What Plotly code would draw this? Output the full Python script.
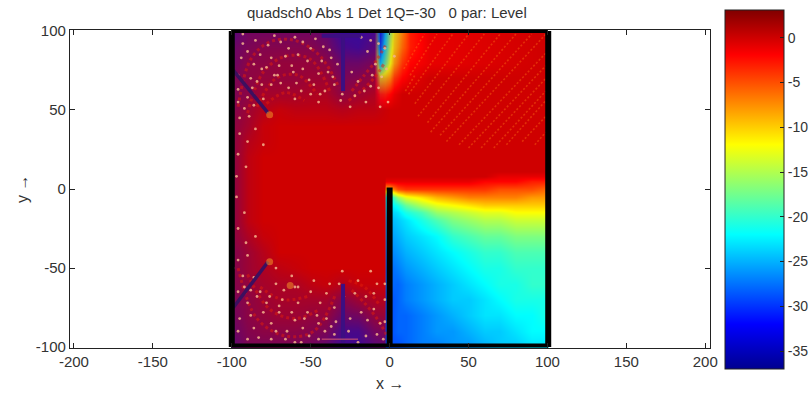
import plotly.graph_objects as go

TITLE = "quadsch0 Abs 1 Det 1Q=-30\u00a0\u00a0 0 par: Level"
x_ticks = [-200, -150, -100, -50, 0, 50, 100, 150, 200]
x_labels = ["-200", "-150", "-100", "-50", "0", "50", "100", "150", "200"]
y_ticks = [-100, -50, 0, 50, 100]
y_labels = ["-100", "-50", "0", "50", "100"]
cbar_ticks = [0, -5, -10, -15, -20, -25, -30, -35]
cbar_labels = ["0", "-5", "-10", "-15", "-20", "-25", "-30", "-35"]

# Level (dB) of the field outside the shadowed quadrant
base_x = [-100, -99, -10, -6, -3, 0, 3, 8, 13, 25, 99, 100]
base_y = [100, 90, 80, 70, 60, 50, -100]
base_z = [
    [0, 0, 0, -30, -22, -15, -11, -7, -3, -1, 0, 0],
    [0, 0, 0, -28, -20, -14, -10, -6, -3, -1, 0, 0],
    [0, 0, 0, -22, -17, -12, -8, -4, -2, -1, 0, 0],
    [0, 0, 0, -10, -9, -7, -4, -2, -1, 0, 0, 0],
    [0, 0, 0, -3, -3, -2, -1, 0, 0, 0, 0, 0],
    [0, 0, 0, 0, 0, 0, 0, 0, 0, 0, 0, 0],
    [0, 0, 0, 0, 0, 0, 0, 0, 0, 0, 0, 0],
]

# Level (dB) in the shadowed quadrant
shadow_x = [0, 5, 10, 20, 30, 40, 50, 60, 70, 80, 90, 99, 100]
shadow_y = [11, 8, 5, 0, -5, -10, -15, -20, -30, -40, -50, -60, -70, -80, -90, -100]
shadow_z = [
    [0, 0, 0, 0, 0, 0, 0, 0, 0, 0, 0, 0, 0],
    [0, 0, 0, 0, 0, 0, 0, 0, -1, -1, -1, -1, -1],
    [-1, -1, -1, -1, -1, -1, -1, -2, -2, -2, -3, -3, -3],
    [-9, -5, -4, -4, -4, -4, -4, -4, -5, -5, -5, -6, -6],
    [-22, -16, -13, -11, -9, -8, -7, -7, -7, -7, -8, -8, -8],
    [-23, -21, -18, -15, -13, -12, -11, -10, -10, -10, -10, -10, -10],
    [-24, -23, -21, -19, -16, -15, -14, -13, -13, -12, -12, -12, -12],
    [-25, -24, -23, -21, -19, -17, -16, -15, -15, -14, -14, -14, -14],
    [-26, -25, -24, -23, -22, -20, -19, -18, -18, -17, -17, -17, -17],
    [-27, -26, -25, -24, -23, -22, -21, -20, -20, -19, -19, -19, -19],
    [-28, -27, -26, -25, -24, -23, -22, -21, -21, -20, -20, -20, -20],
    [-28, -28, -27, -26, -25, -24, -23, -22, -21, -21, -20, -20, -20],
    [-29, -28, -27, -26, -25, -24, -24, -23, -22, -21, -21, -21, -21],
    [-29, -28, -28, -27, -26, -25, -24, -23, -23, -22, -22, -21, -21],
    [-29, -28, -28, -27, -26, -26, -25, -24, -24, -23, -22, -22, -22],
    [-29, -29, -28, -27, -27, -26, -26, -25, -24, -24, -23, -23, -23],
]

# Share of deep-interference (blue) pixels per area of the lit field
mix_x = [-100, -99, -90, -80, -70, -60, -50, -40, -30, -20, -10, 0, 10]
mix_y = [99, 90, 80, 70, 60, 50, 40, 30, 20, 10, 0, -10, -20, -30, -40, -50,
         -60, -70, -80, -90, -99]
mix_z = [
    [.7, .7, .55, .55, .55, .55, .55, .65, .9, .9, .8, .2, 0],
    [.6, .6, .5, .45, .45, .45, .45, .55, .8, .85, .7, .15, 0],
    [.6, .6, .4, .4, .35, .35, .35, .4, .6, .6, .5, .1, 0],
    [.5, .5, .4, .35, .35, .35, .3, .3, .5, .45, .35, .05, 0],
    [.5, .5, .4, .25, .25, .25, .2, .2, .4, .3, .2, 0, 0],
    [.45, .45, .3, .15, .05, .1, .1, .1, .15, .1, .1, 0, 0],
    [.4, .4, .25, .05, 0, 0, 0, 0, 0, 0, 0, 0, 0],
    [.4, .4, .15, .05, 0, 0, 0, 0, 0, 0, 0, 0, 0],
    [.4, .4, .1, 0, 0, 0, 0, 0, 0, 0, 0, 0, 0],
    [.4, .4, .1, 0, 0, 0, 0, 0, 0, 0, 0, 0, 0],
    [.4, .4, .1, 0, 0, 0, 0, 0, 0, 0, 0, 0, 0],
    [.4, .4, .1, 0, 0, 0, 0, 0, 0, 0, 0, 0, 0],
    [.4, .4, .1, 0, 0, 0, 0, 0, 0, 0, 0, 0, 0],
    [.4, .4, .2, .05, 0, 0, 0, 0, 0, 0, 0, 0, 0],
    [.45, .45, .3, .15, 0, 0, 0, 0, 0, 0, 0, 0, 0],
    [.45, .45, .3, .2, .1, .05, 0, 0, 0, 0, 0, 0, 0],
    [.45, .45, .35, .25, .2, .2, .1, .05, .15, .05, .05, .05, 0],
    [.5, .5, .4, .3, .25, .25, .25, .25, .45, .3, .2, .15, 0],
    [.55, .55, .4, .35, .3, .3, .35, .35, .6, .55, .35, .3, 0],
    [.6, .6, .45, .4, .4, .4, .45, .5, .8, .8, .55, .45, 0],
    [.65, .65, .5, .5, .5, .5, .55, .65, .85, .85, .7, .6, 0],
]

# Bright interference specks
speck_x = [-93, -85, -77, -69, -60, -50, -52, -61, -71, -81, -88, -94, -96, -90, -82, -75, -66,
           -58, -43, -39, -48, -56, -64, -75, -81, -87, -45, -51, -59, -69, -35, -24, -14, -9,
           -20, -16, -7, -1, -41, -50, -60, -96, -92, -89, -95, -12, -3, -18, -95, -90, -96,
           -91, -97, -85, -80, -30, -15, -25, -6, -45,
           -73, -64, -55, -47, -38, -33, -86, -78, -70, -62, -55, -42, -37, -93, -84, -73,
           -96, -90, -86, -80, -5, -11, -22, -31, -36, -44, -2, 3, -7, -12,
           -96, -90, -93, -86, -82, -72, -62, -68, -58, -50, -52, -44, -38, -35, -29, -20, -25,
           -15, -8, -3, -6, -14, -80, -90, -95, -86, -75, -65, -55, -45, -35, -75, -60, -90,
           -45, -70, -60, -40, -96, -91, -96, -92, -97, -85, -72, -60, -30, -12, -4, -15,
           -92, -84, -76, -67, -58, -48, -40, -32, -22, -10, -3, -88, -78, -70, -62, -54, -46,
           -37, -26, -18, -10, -96, -83, -66, -51, -41, -20, -8, -99, -88, -72, -56, -34, -3]
speck_y = [98, 94, 91, 93, 96, 89, 81, 74, 72, 76, 70, 83, 72, 87, 85, 83, 84,
           85, 81, 74, 66, 62, 64, 66, 66, 64, 73, 69, 67, 67, 66, 74, 87, 79,
           68, 62, 64, 55, 62, 60, 57, 55, 51, 46, 45, 94, 89, 96, 35, 30, 22,
           14, 8, 38, 28, 60, 55, 52, 52, 55,
           97, 89, 93, 95, 88, 79, 79, 77, 78, 78, 76, 90, 83, 92, 68, 72,
           63, 58, 53, 57, 71, 72, 59, 56, 71, 60, 76, 84, 92, 65,
           -45, -42, -55, -56, -65, -60, -55, -70, -72, -65, -78, -72, -60, -75, -68, -58, -82,
           -68, -60, -70, -85, -83, -78, -72, -82, -88, -85, -90, -88, -85, -92, -95, -97, -95,
           -95, -78, -83, -82, -65, -34, -25, -15, -5, -30, -50, -62, -52, -52, -95, -93,
           -62, -68, -68, -64, -62, -58, -66, -60, -66, -66, -60, -80, -72, -74, -78, -82, -80,
           -87, -90, -78, -76, -90, -94, -95, -93, -90, -97, -92, -50, -64, -90, -97, -84, -84]

# Red arcs of the interference rings, left half
ring_x = [-96, -88, -76, -60, -44, -32, None, -90, -80, -66, -50, -38, None, -84, -72, -58, -46, None,
          -78, -66, -54, None, -96, -84, -66, -48, -34, None, -90, -76, -60, -44, None, -82, -68, -52,
          None, -24, -16, -8, -2, None, -26, -18, -10, -3, None, -24, -16, -8, -2, None, -26, -16, -6]
ring_y = [52, 82, 93, 94, 84, 64, None, 48, 74, 84, 82, 62, None, 52, 70, 72, 60, None,
          54, 61, 56, None, -50, -82, -93, -90, -66, None, -54, -76, -82, -76, None, -62, -70, -68,
          None, 62, 72, 82, 92, None, 56, 62, 70, 80, None, -64, -72, -82, -92, None, -58, -62, -74]

# Diagonal interference fringes in the upper right
fringe_x = [12, 40, None, 16, 50, None, 18, 60, None, 24, 70, None, 26, 80, None, 32, 90, None,
            36, 99, None, 44, 99, None, 50, 99, None, 58, 99, None, 66, 99, None, 74, 99, None,
            84, 99, None, 9, 22, None, 13, 30, None, 10, 16, None, 92, 99]
fringe_y = [60, 98, None, 54, 98, None, 46, 98, None, 42, 98, None, 36, 98, None, 34, 98, None,
            30, 98, None, 28, 86, None, 26, 78, None, 26, 70, None, 26, 62, None, 28, 56, None,
            30, 46, None, 76, 98, None, 72, 98, None, 62, 72, None, 28, 36]

# Wedge-like dark streaks, blue columns and the walls of the quadrant
streak_x = [-99, -77, None, -99, -77]
streak_y = [75, 48, None, -75, -46]
tips_x = [-76, -76, -63]
tips_y = [47, -46, -61]
column_x = [-29.5, -29.5, None, -29.5, -29.5, None, -43, -18]
column_y = [97, 62, None, -60, -97, None, 97, 97]
pink_x = [-43, -20]
pink_y = [-95, -95]
wall_side_x = [-100, -100, None, 100.5, 100.5, None, 0, 0]
wall_side_y = [100, -100, None, 100, -100, None, 1, -100]
wall_edge_x = [-100, 100, None, -100, 100]
wall_edge_y = [100, 100, None, -99, -99]

FONT = "Liberation Sans, Arial, sans-serif"
TXT = "#333333"
JET = [[0, "rgb(0,0,143)"], [0.125, "rgb(0,0,255)"], [0.375, "rgb(0,255,255)"],
       [0.625, "rgb(255,255,0)"], [0.875, "rgb(255,0,0)"], [1, "rgb(128,0,0)"]]

fig = go.Figure()
fig.add_trace(go.Heatmap(x=base_x, y=base_y, z=base_z, coloraxis="coloraxis", zsmooth="best",
                         hoverinfo="skip"))
fig.add_trace(go.Heatmap(x=mix_x, y=mix_y, z=mix_z, zmin=0, zmax=1, zsmooth="best", showscale=False,
                         colorscale=[[0, "rgba(40,10,170,0)"], [1, "rgba(40,10,170,1)"]],
                         hoverinfo="skip"))
fig.add_trace(go.Scatter(x=ring_x, y=ring_y, mode="lines", hoverinfo="skip",
                         line=dict(color="rgba(225,30,10,0.5)", width=3, dash="3px,3px", shape="spline")))
fig.add_trace(go.Scatter(x=fringe_x, y=fringe_y, mode="lines", hoverinfo="skip",
                         line=dict(color="rgba(255,110,20,0.42)", width=1.6, dash="2px,2px")))
fig.add_trace(go.Scatter(x=speck_x, y=speck_y, mode="markers", hoverinfo="skip",
                         marker=dict(size=2.8, color="rgba(245,180,140,0.85)")))
fig.add_trace(go.Scatter(x=column_x, y=column_y, mode="lines", hoverinfo="skip",
                         line=dict(color="rgb(60,15,130)", width=4)))
fig.add_trace(go.Scatter(x=pink_x, y=pink_y, mode="lines", hoverinfo="skip",
                         line=dict(color="rgb(215,90,110)", width=1)))
fig.add_trace(go.Scatter(x=streak_x, y=streak_y, mode="lines", hoverinfo="skip",
                         line=dict(color="rgb(60,15,95)", width=3.5)))
fig.add_trace(go.Scatter(x=tips_x, y=tips_y, mode="markers", hoverinfo="skip",
                         marker=dict(size=7, color="rgba(240,150,40,0.55)")))
fig.add_trace(go.Heatmap(x=shadow_x, y=shadow_y, z=shadow_z, coloraxis="coloraxis", zsmooth="best",
                         hoverinfo="skip"))
fig.add_trace(go.Scatter(x=wall_side_x, y=wall_side_y, mode="lines", hoverinfo="skip",
                         line=dict(color="black", width=6)))
fig.add_trace(go.Scatter(x=wall_edge_x, y=wall_edge_y, mode="lines", hoverinfo="skip",
                         line=dict(color="black", width=4)))

axis_common = dict(showgrid=False, zeroline=False, showline=True, linecolor="#222222", linewidth=1.2,
                   mirror="ticks", ticks="inside", ticklen=5, tickcolor="#222222",
                   tickfont=dict(family=FONT, size=15, color=TXT))
fig.update_layout(
    width=812, height=396, showlegend=False, paper_bgcolor="white", plot_bgcolor="white",
    margin=dict(l=70, r=102, t=30, b=48, autoexpand=False),
    xaxis=dict(range=[-202.5, 203], tickvals=x_ticks, ticktext=x_labels, **axis_common),
    yaxis=dict(range=[-100.6, 100.6], tickvals=y_ticks, ticktext=y_labels, **axis_common),
    coloraxis=dict(cmin=-37, cmax=3.1, colorscale=JET, colorbar=dict(
        x=1.0234, xanchor="left", xref="paper", y=1.063, yanchor="top", yref="paper",
        lenmode="pixels", len=359, thicknessmode="pixels", thickness=59, xpad=0, ypad=0,
        outlinecolor="#222222", outlinewidth=1, tickvals=cbar_ticks, ticktext=cbar_labels,
        ticks="inside", ticklen=4, tickcolor="#222222",
        tickfont=dict(family=FONT, size=14, color=TXT))),
)
fig.add_annotation(text=TITLE, xref="paper", yref="paper", x=0.496, y=1.056, yanchor="middle",
                   showarrow=False, font=dict(family=FONT, size=15, color=TXT))
fig.add_annotation(text="x →", xref="paper", yref="paper", x=0.5, y=-0.112, yanchor="middle",
                   showarrow=False, font=dict(family=FONT, size=16, color=TXT))
fig.add_annotation(text="y →", xref="paper", yref="paper", x=-0.075, y=0.5, textangle=-90,
                   xanchor="center", yanchor="middle", showarrow=False,
                   font=dict(family=FONT, size=16, color=TXT))
fig.write_html("out.html", config={"displayModeBar": False},
               post_script="document.body.style.margin='0';document.body.style.overflow='hidden';")
